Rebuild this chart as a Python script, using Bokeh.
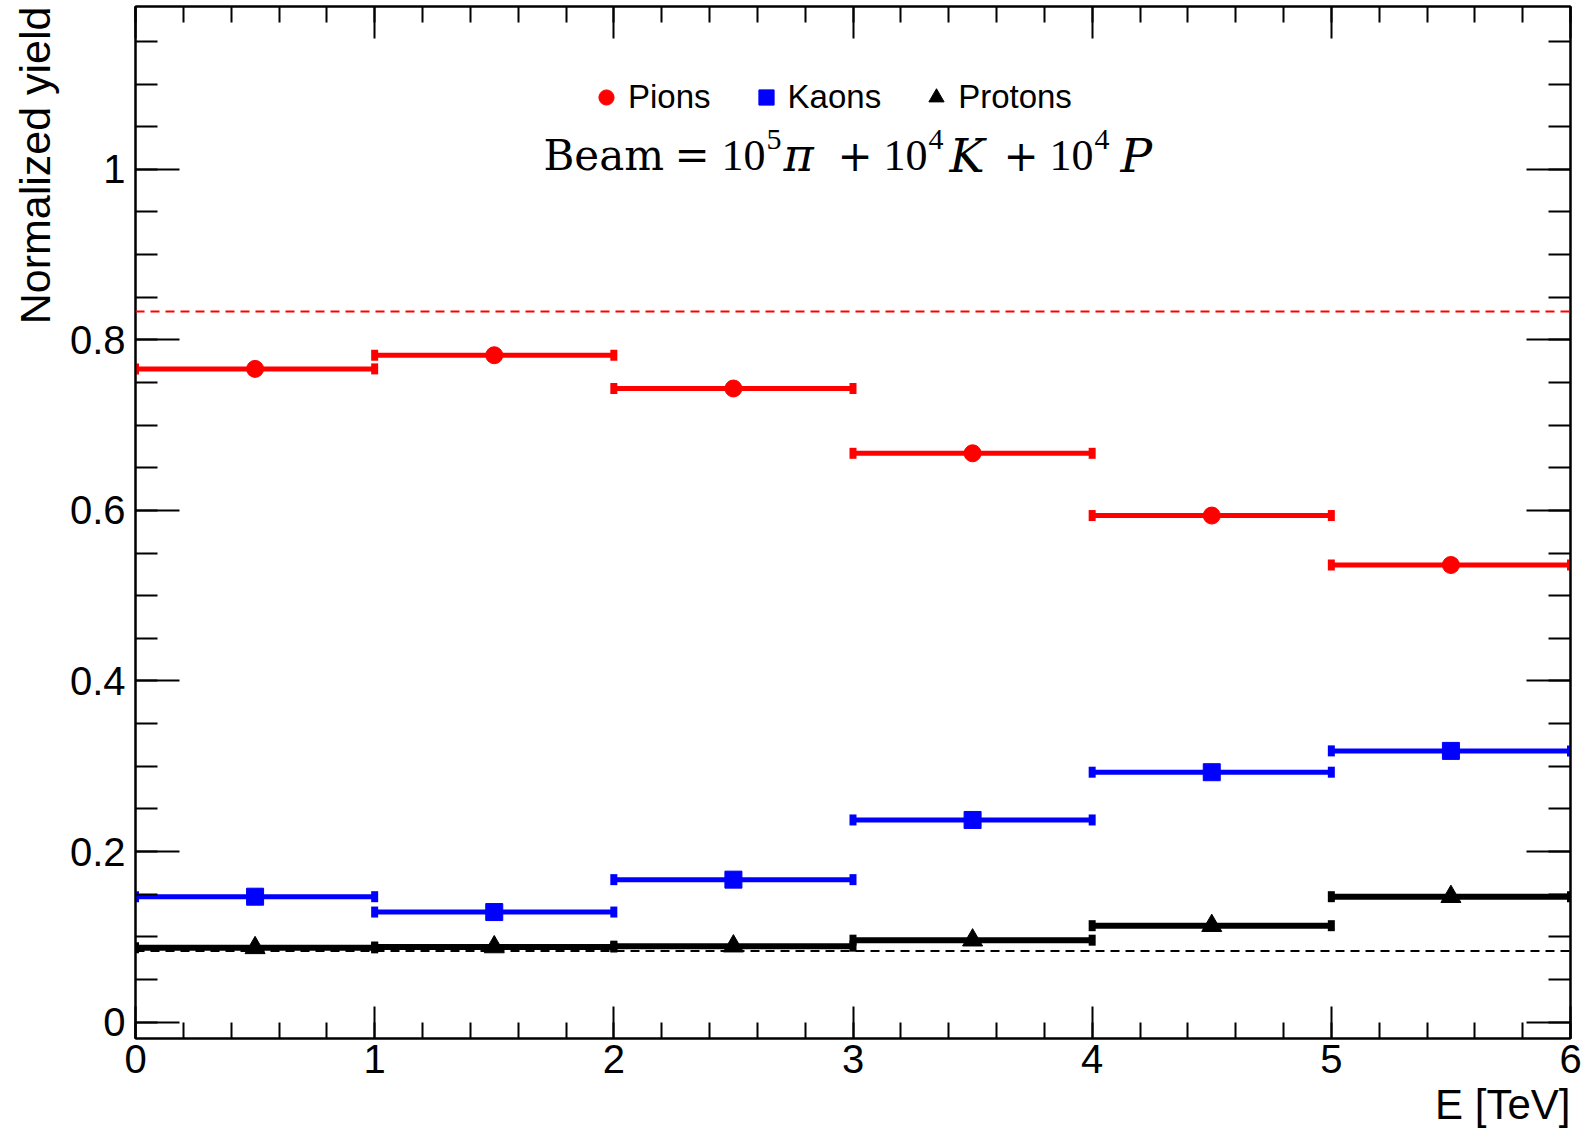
import numpy as np
from bokeh.plotting import figure
from bokeh.models import (Range1d, SingleIntervalTicker, LinearAxis, Span, Label, Title,
                          Legend, LegendItem, CustomJSTickFormatter, ColumnDataSource)
from bokeh.embed import file_html
from bokeh.resources import INLINE

# ---------------- data ----------------
bin_low = [0, 1, 2, 3, 4, 5]
bin_high = [1, 2, 3, 4, 5, 6]
pions = [0.766, 0.782, 0.743, 0.667, 0.594, 0.536]
kaons = [0.147, 0.129, 0.167, 0.237, 0.293, 0.318]
protons = [0.087, 0.088, 0.089, 0.096, 0.113, 0.147]
pion_beam_fraction = 0.8333
proton_beam_fraction = 0.0833
series_names = ["Pions", "Kaons", "Protons"]

W, H = 1589, 1131
FL, FR, FT, FB = 135, 1570, 6, 1039   # frame edges in pixels
XMIN, XMAX = 0.0, 6.0
YMIN, YMAX = -0.0193, 1.191

p = figure(width=W, height=H, output_backend="svg", toolbar_location=None,
           x_range=Range1d(XMIN, XMAX), y_range=Range1d(YMIN, YMAX),
           min_border_left=FL, min_border_right=W - FR,
           min_border_top=FT, min_border_bottom=H - FB)
p.grid.visible = False
p.background_fill_color = "white"
p.border_fill_color = "white"
p.outline_line_color = "black"
p.outline_line_width = 2

FONT = "Liberation Sans"

def px2x(px):
    return XMIN + (px - FL) / (FR - FL) * (XMAX - XMIN)

def px2y(py):
    return YMIN + (FB - py) / (FB - FT) * (YMAX - YMIN)

blank = CustomJSTickFormatter(code="return '';")

xt = SingleIntervalTicker(interval=1, num_minor_ticks=5)
yt = SingleIntervalTicker(interval=0.2, num_minor_ticks=4)

def style_x(ax, labels=True):
    ax.ticker = xt
    ax.axis_line_color = "black"
    ax.axis_line_width = 2
    ax.major_tick_in = 32
    ax.major_tick_out = 0
    ax.minor_tick_in = 16
    ax.minor_tick_out = 0
    ax.major_tick_line_width = 2
    ax.minor_tick_line_width = 2
    ax.major_tick_line_color = "black"
    ax.minor_tick_line_color = "black"
    if labels:
        ax.major_label_text_font = FONT
        ax.major_label_text_font_size = "40px"
        ax.major_label_text_color = "black"
        ax.major_label_standoff = 6
    else:
        ax.formatter = blank
        ax.major_label_standoff = 0

def style_y(ax, labels=True):
    ax.ticker = yt
    ax.axis_line_color = "black"
    ax.axis_line_width = 2
    ax.major_tick_in = 44
    ax.major_tick_out = 0
    ax.minor_tick_in = 22
    ax.minor_tick_out = 0
    ax.major_tick_line_width = 2
    ax.minor_tick_line_width = 2
    ax.major_tick_line_color = "black"
    ax.minor_tick_line_color = "black"
    if labels:
        ax.major_label_text_font = FONT
        ax.major_label_text_font_size = "40px"
        ax.major_label_text_color = "black"
        ax.major_label_standoff = 10
        ax.formatter = CustomJSTickFormatter(code="return String(Math.round(tick*10)/10);")
    else:
        ax.formatter = blank
        ax.major_label_standoff = 0

style_x(p.xaxis[0])
style_y(p.yaxis[0])
top_ax = LinearAxis()
style_x(top_ax, labels=False)
p.add_layout(top_ax, "above")
right_ax = LinearAxis()
style_y(right_ax, labels=False)
p.add_layout(right_ax, "right")

# axis titles as side titles (right aligned like ROOT)
ytitle = Title(text="Normalized yield", align="right", text_font=FONT, text_font_size="43px",
               text_font_style="normal", text_color="black", standoff=15)
p.add_layout(ytitle, "left")
xtitle = Title(text="E [TeV]", align="right", text_font=FONT, text_font_size="42px",
               text_font_style="normal", text_color="black", standoff=7)
p.add_layout(xtitle, "below")

# reference lines
p.add_layout(Span(location=pion_beam_fraction, dimension="width", line_color="#ff0000",
                  line_width=2, line_dash="9 6"))
p.add_layout(Span(location=proton_beam_fraction, dimension="width", line_color="black",
                  line_width=2, line_dash="9 6"))

# series
centers = [(a + b) / 2 for a, b in zip(bin_low, bin_high)]
specs = [(pions, "#ff0000", "circle", 17, 5),
         (kaons, "#0000ff", "square", 17, 5),
         (protons, "black", "triangle", 20, 6)]
marker_renderers = []
for vals, col, mk, sz, lw in specs:
    src = ColumnDataSource(dict(lo=bin_low, hi=bin_high, x=centers, y=vals))
    p.segment(x0="lo", y0="y", x1="hi", y1="y", source=src, line_color=col, line_width=lw)
    cap = ColumnDataSource(dict(x=list(bin_low) + list(bin_high), y=list(vals) + list(vals)))
    p.rect(x="x", y="y", width=7, height=11, width_units="screen", height_units="screen",
           source=cap, fill_color=col, line_color=None)
    r = p.scatter(x="x", y="y", source=src, marker=mk, size=sz, fill_color=col, line_color=col)
    marker_renderers.append(r)

legend = Legend(items=[LegendItem(label=n, renderers=[r]) for n, r in zip(series_names, marker_renderers)],
                orientation="horizontal", location=(452, 922))
legend.label_text_font = FONT
legend.label_text_font_size = "33px"
legend.label_text_color = "black"
legend.glyph_width = 38
legend.glyph_height = 38
legend.label_standoff = 3
legend.spacing = 36
legend.padding = 0
legend.margin = 0
legend.border_line_color = None
legend.background_fill_alpha = 0
legend.label_height = 38
p.add_layout(legend, "center")

# beam composition title, composed of pieces
base_y = 155
sup_y = 139
pieces = [
    ("Beam", 543, base_y, "42px", "normal", "DejaVu Serif"),
    ("=", 674, base_y, "42px", "normal", "DejaVu Serif"),
    ("10", 721, base_y, "44px", "normal", "Liberation Serif"),
    ("5", 766, sup_y, "30px", "normal", "Liberation Serif"),
    ("\u03c0", 783, base_y, "46px", "italic", "DejaVu Serif"),
    ("+", 837, base_y, "42px", "normal", "DejaVu Serif"),
    ("10", 883, base_y, "44px", "normal", "Liberation Serif"),
    ("4", 928, sup_y, "30px", "normal", "Liberation Serif"),
    ("K", 949, base_y, "47px", "italic", "DejaVu Serif"),
    ("+", 1003, base_y, "42px", "normal", "DejaVu Serif"),
    ("10", 1049, base_y, "44px", "normal", "Liberation Serif"),
    ("4", 1094, sup_y, "30px", "normal", "Liberation Serif"),
    ("P", 1120, base_y, "47px", "italic", "DejaVu Serif"),
]
for t, px, py, fs, st, fn in pieces:
    p.add_layout(Label(x=px2x(px), y=px2y(py), text=t, text_align="left",
                       text_baseline="alphabetic", text_font=fn, text_font_size=fs,
                       text_font_style=st, text_color="black"))

open("out.html", "w").write(file_html(p, INLINE))
